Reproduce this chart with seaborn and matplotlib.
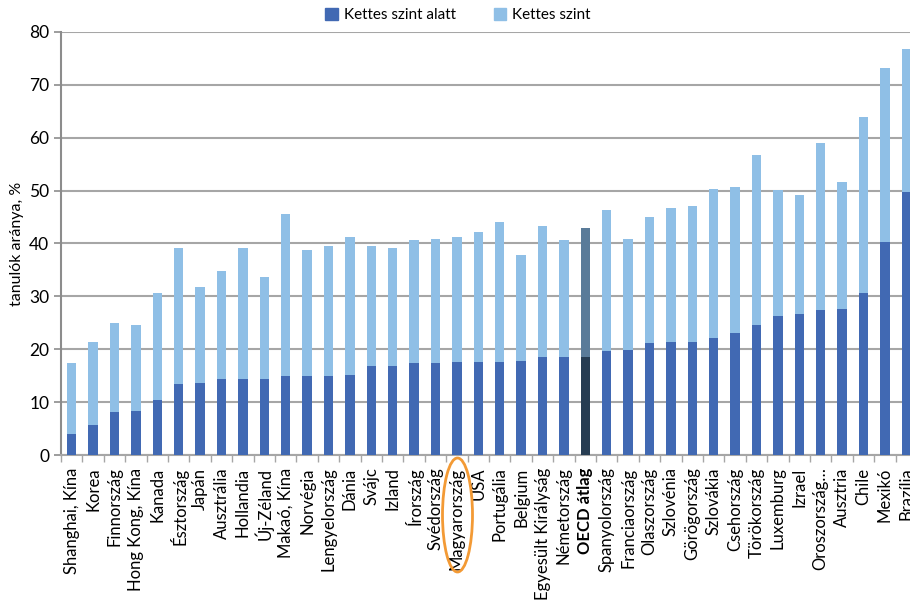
import matplotlib
matplotlib.use('Agg')
import matplotlib.pyplot as plt
from matplotlib.patches import Ellipse, Patch
import seaborn as sns
import pandas as pd

countries = ['Shanghai, Kína', 'Korea', 'Finnország', 'Hong Kong, Kína', 'Kanada', 'Észtország',
             'Japán', 'Ausztrália', 'Hollandia', 'Új-Zéland', 'Makaó, Kína', 'Norvégia',
             'Lengyelország', 'Dánia', 'Svájc', 'Izland', 'Írország', 'Svédország',
             'Magyarország', 'USA', 'Portugália', 'Belgium', 'Egyesült Királyság', 'Németország',
             'OECD átlag', 'Spanyolország', 'Franciaország', 'Olaszország', 'Szlovénia',
             'Görögország', 'Szlovákia', 'Csehország', 'Törökország', 'Luxemburg', 'Izrael',
             'Oroszország…', 'Ausztria', 'Chile', 'Mexikó', 'Brazília']

# below level 2 ("Kettes szint alatt")
below = [4.0, 5.7, 8.2, 8.4, 10.4, 13.5, 13.7, 14.3, 14.3, 14.3, 15.0, 15.0,
         15.0, 15.2, 16.9, 16.9, 17.4, 17.4, 17.6, 17.6, 17.6, 17.8, 18.5, 18.5,
         18.5, 19.6, 19.8, 21.1, 21.3, 21.3, 22.2, 23.1, 24.6, 26.2, 26.6,
         27.5, 27.7, 30.6, 40.2, 49.7]
# total of below level 2 + level 2
total = [17.4, 21.4, 24.9, 24.5, 30.6, 39.1, 31.7, 34.8, 39.1, 33.6, 45.5, 38.7,
         39.6, 41.3, 39.6, 39.1, 40.6, 40.9, 41.3, 42.1, 44.0, 37.9, 43.3, 40.6,
         42.9, 46.4, 40.9, 45.1, 46.8, 47.0, 50.3, 50.6, 56.7, 50.1, 49.2,
         59.1, 51.6, 64.0, 73.1, 76.8]

df = pd.DataFrame({'country': countries, 'below': below, 'total': total})

dark = '#4169b3'
light = '#8fbfe6'
oecd_dark = '#263c52'
oecd_light = '#5a7b99'

pal_light = {c: (oecd_light if c == 'OECD átlag' else light) for c in countries}
pal_dark = {c: (oecd_dark if c == 'OECD átlag' else dark) for c in countries}

plt.rcParams['font.family'] = ['Lato', 'DejaVu Sans']

fig = plt.figure(figsize=(9.1, 6), dpi=100)
ax = fig.add_axes([61 / 910, 1 - 455 / 600, (917 - 61) / 910, (455 - 32) / 600])

sns.barplot(data=df, x='country', y='total', hue='country', palette=pal_light,
            width=0.44, legend=False, ax=ax, zorder=3, saturation=1)
sns.barplot(data=df, x='country', y='below', hue='country', palette=pal_dark,
            width=0.44, legend=False, ax=ax, zorder=3, saturation=1)

ax.set_xlim(-0.5, len(countries) - 0.5)
ax.set_ylim(0, 80)
ax.set_yticks(range(0, 81, 10))
ax.yaxis.grid(True, color='#a6a6a6', linewidth=1.5, zorder=0)
ax.set_axisbelow(True)
for s in ['top', 'right']:
    ax.spines[s].set_visible(False)
ax.spines['left'].set_color('#8c8c8c')
ax.spines['left'].set_linewidth(1.5)
ax.spines['bottom'].set_color('#a6a6a6')
ax.spines['bottom'].set_linewidth(1.5)

ax.set_xlabel('')
ax.set_ylabel('tanulók aránya, %', fontsize=11.5, labelpad=4)
ax.tick_params(axis='y', labelsize=12.5, length=5, color='#8c8c8c', width=1.2)

ax.set_xticks(range(len(countries)))
ax.set_xticklabels(countries, rotation=90, fontsize=12)
ax.tick_params(axis='x', length=0, pad=9)
ax.set_xticks([i + 0.5 for i in range(-1, len(countries))], minor=True)
ax.tick_params(axis='x', which='minor', length=5, color='#a6a6a6', width=1)
for lbl in ax.get_xticklabels():
    if lbl.get_text() == 'OECD átlag':
        lbl.set_fontweight('bold')

# circle around Magyarország
ell = Ellipse((457.5 / 910, 1 - 515 / 600), 30 / 910, 114 / 600,
              transform=fig.transFigure, fill=False, edgecolor='#f39a35', linewidth=2)
fig.patches.append(ell)

handles = [Patch(color=dark, label='Kettes szint alatt'), Patch(color=light, label='Kettes szint')]
fig.legend(handles=handles, loc='center', bbox_to_anchor=(458 / 910, 1 - 15 / 600), ncol=2,
           frameon=False, fontsize=11, handlelength=0.8, handleheight=0.8,
           columnspacing=2.5, handletextpad=0.4)

fig.savefig('out.png', dpi=100)
